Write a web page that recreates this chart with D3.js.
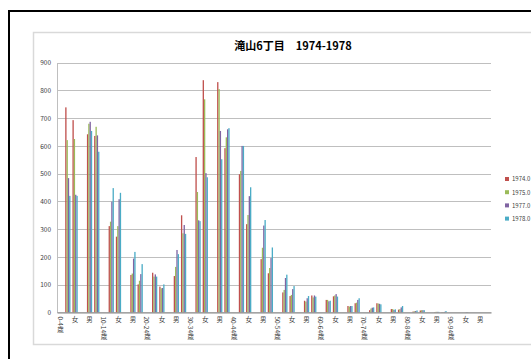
<!DOCTYPE html>
<html>
<head>
<meta charset="utf-8">
<script src="https://cdn.jsdelivr.net/npm/d3@7"></script>
<style>
  html, body { margin: 0; padding: 0; background: #fff; overflow: hidden; }
  svg { display: block; }
  text { font-family: "Noto Sans CJK JP", "Noto Sans", sans-serif; }
</style>
</head>
<body>
<div id="chart"></div>
<script>
// age groups, each shown as header row + 男 + 女 rows
const ageGroups = ['0-4歳', '5-9歳', '10-14歳', '15-19歳', '20-24歳', '25-29歳', '30-34歳',
  '35-39歳', '40-44歳', '45-49歳', '50-54歳', '55-59歳', '60-64歳', '65-69歳', '70-74歳',
  '75-79歳', '80-84歳', '85-89歳', '90-94歳', '95-99歳'];
const seriesNames = ['1974.0', '1975.0', '1977.0', '1978.0'];
const seriesColors = ['#c0504d', '#9bbb59', '#8064a2', '#4bacc6'];
const yTicks = [0, 100, 200, 300, 400, 500, 600, 700, 800, 900];

// values per age group: [男, 女], each [1974, 1975, 1977, 1978]
const maleValues = [
  [739, 621, 484, 420], [642, 680, 687, 654], [311, 327, 399, 448], [135, 140, 194, 218],
  [143, 129, 137, 129], [131, 164, 225, 210], [560, 434, 332, 329], [830, 805, 654, 552],
  [498, 510, 600, 600], [192, 233, 313, 333], [72, 81, 124, 136], [42, 39, 51, 59],
  [45, 45, 40, 42], [23, 21, 23, 23], [8, 14, 17, 18], [12, 12, 9, 11],
  [3, 4, 5, 7], [1, 2, 2, 2], [0, 0, 0, 0], [0, 0, 0, 0]
];
const femaleValues = [
  [693, 625, 424, 420], [636, 669, 638, 579], [273, 311, 408, 431], [101, 114, 138, 174],
  [93, 87, 88, 101], [350, 285, 315, 283], [837, 768, 502, 487], [592, 631, 660, 664],
  [318, 351, 419, 451], [141, 160, 196, 234], [59, 63, 84, 95], [61, 54, 61, 57],
  [58, 61, 66, 57], [33, 35, 45, 51], [33, 32, 31, 29], [10, 12, 18, 23],
  [7, 8, 8, 8], [1, 1, 2, 5], [0, 0, 1, 1], [0, 0, 0, 0]
];

// build row table
const rows = [];
ageGroups.forEach((g, i) => {
  rows.push({ key: 'h' + i, label: g, values: null });
  rows.push({ key: 'm' + i, label: '男', values: maleValues[i] });
  rows.push({ key: 'f' + i, label: '女', values: femaleValues[i] });
});

const width = 531, height = 359;
const plot = { left: 57, right: 491, top: 62.7, bottom: 312.4 };

const svg = d3.select('#chart').append('svg')
  .attr('width', width)
  .attr('height', height);

// outer frame
svg.append('line').attr('x1', 8).attr('x2', width).attr('y1', 11).attr('y2', 11)
  .attr('stroke', '#000').attr('stroke-width', 2);
svg.append('line').attr('x1', 9).attr('x2', 9).attr('y1', 10).attr('y2', height)
  .attr('stroke', '#000').attr('stroke-width', 2);

// chart area border
svg.append('rect')
  .attr('x', 33.5).attr('y', 32.5)
  .attr('width', 540).attr('height', 312)
  .attr('fill', '#fff').attr('stroke', '#d9d9d9').attr('stroke-width', 1.5);

const x0 = d3.scaleBand()
  .domain(rows.map(d => d.key))
  .range([plot.left, plot.right])
  .paddingInner(0).paddingOuter(0);

const bw = x0.bandwidth();
const gap = bw * 1.5 / 5.5;
const x1 = d3.scaleBand()
  .domain(seriesNames)
  .range([gap / 2, bw - gap / 2])
  .padding(0);

const y = d3.scaleLinear()
  .domain([0, 900])
  .range([plot.bottom, plot.top]);

// gridlines
svg.append('g')
  .selectAll('line')
  .data(yTicks.filter(t => t > 0))
  .join('line')
  .attr('x1', plot.left).attr('x2', plot.right)
  .attr('y1', d => Math.round(y(d)) + 0.5).attr('y2', d => Math.round(y(d)) + 0.5)
  .attr('stroke', '#bfbfbf').attr('stroke-width', 1);

// y axis
svg.append('g')
  .attr('transform', `translate(${plot.left},0)`)
  .call(d3.axisLeft(y).tickValues(yTicks).tickSize(0).tickPadding(6))
  .call(g => g.select('.domain').attr('stroke', '#bfbfbf'))
  .call(g => g.selectAll('.tick text')
    .attr('fill', '#404040').attr('font-size', '6.5px')
    .attr('font-family', '"Liberation Sans", Arial, sans-serif'));

// bars
const groups = svg.append('g')
  .selectAll('g')
  .data(rows.filter(d => d.values))
  .join('g')
  .attr('transform', d => `translate(${x0(d.key)},0)`);

groups.selectAll('rect')
  .data(d => d.values.map((v, i) => ({ name: seriesNames[i], value: v, i })))
  .join('rect')
  .attr('x', d => x1(d.name))
  .attr('width', x1.bandwidth())
  .attr('y', d => y(d.value))
  .attr('height', d => y(0) - y(d.value))
  .attr('fill', d => seriesColors[d.i]);

// x axis
svg.append('g')
  .attr('transform', `translate(0,${plot.bottom})`)
  .call(d3.axisBottom(x0)
    .tickValues(rows.filter((d, i) => i % 2 === 0).map(d => d.key))
    .tickFormat(k => rows.find(r => r.key === k).label)
    .tickSize(0).tickPadding(0))
  .call(g => g.select('.domain').attr('stroke', '#868686').attr('stroke-width', 1.2))
  .call(g => g.selectAll('.tick text')
    .attr('fill', '#404040').attr('font-size', '6.5px')
    .attr('dy', null)
    .attr('y', 4)
    .attr('text-anchor', 'start')
    .style('writing-mode', 'vertical-rl'));

// title
svg.append('text')
  .attr('x', 293).attr('y', 50)
  .attr('text-anchor', 'middle')
  .attr('font-size', '11px').attr('font-weight', 'bold')
  .attr('fill', '#000')
  .text('滝山6丁目　1974-1978');

// legend
const legend = svg.append('g')
  .selectAll('g')
  .data(seriesNames)
  .join('g')
  .attr('transform', (d, i) => `translate(505,${179 + i * 13.2})`);
legend.append('rect')
  .attr('x', 0).attr('y', -2).attr('width', 4).attr('height', 4)
  .attr('fill', (d, i) => seriesColors[i]);
legend.append('text')
  .attr('x', 7).attr('y', 2.3)
  .attr('font-size', '6px').attr('fill', '#404040')
  .attr('font-family', '"Liberation Sans", Arial, sans-serif')
  .text(d => d);
</script>
</body>
</html>
